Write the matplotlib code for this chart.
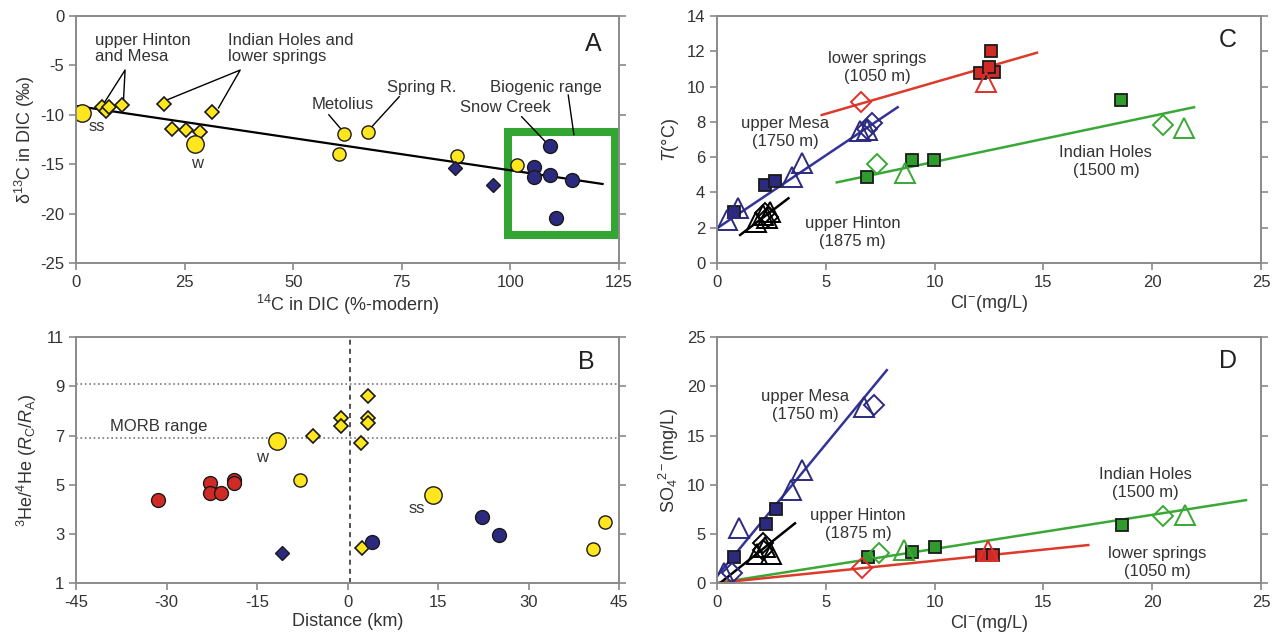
import matplotlib
matplotlib.use("Agg")
import matplotlib.pyplot as plt
from matplotlib.patches import Rectangle

plt.rcParams['font.family'] = ['Liberation Sans', 'DejaVu Sans']
plt.rcParams['mathtext.fontset'] = 'custom'
plt.rcParams['mathtext.rm'] = 'Liberation Sans'
plt.rcParams['mathtext.it'] = 'Liberation Sans:italic'
plt.rcParams['axes.unicode_minus'] = False

YEL = '#ffe61e'
NAVY = '#2b2a7e'
RED = '#d02a26'
GREEN = '#2f9b2c'
GLINE = '#3aa836'
EDGE = '#1a1a1a'
TXT = '#333333'

# ---- panel A: 14C vs d13C ----
a_ycirc_x = [61.8, 60.5, 67.3, 87.6, 101.6]
a_ycirc_y = [-11.9, -14.0, -11.7, -14.2, -15.1]
a_ybig_x = [1.4, 27.3]
a_ybig_y = [-9.85, -13.0]
a_ydiam_x = [6.0, 6.8, 7.6, 10.5, 20.2, 31.4, 22.0, 25.3, 28.6]
a_ydiam_y = [-9.2, -9.6, -9.2, -9.0, -8.9, -9.7, -11.4, -11.5, -11.7]
a_ndiam_x = [87.2, 95.9]
a_ndiam_y = [-15.35, -17.1]
a_ncirc_x = [109.1, 105.5, 105.5, 109.0, 114.1, 110.5]
a_ncirc_y = [-13.2, -15.25, -16.3, -16.1, -16.6, -20.4]
a_fit_x = [0, 121.2]
a_fit_y = [-9.1, -17.0]

# ---- panel B: distance vs 3He/4He ----
b_red_x = [-31.4, -22.8, -22.8, -21.0, -18.8, -18.8]
b_red_y = [4.36, 5.07, 4.66, 4.66, 5.19, 5.05]
b_ybig_x = [-11.7, 14.1]
b_ybig_y = [6.77, 4.58]
b_ycirc_x = [-7.9, 42.6, 40.6]
b_ycirc_y = [5.19, 3.47, 2.37]
b_ydiam_x = [-5.7, -1.1, -1.1, 3.45, 3.45, 3.45, 2.2, 2.35]
b_ydiam_y = [6.98, 7.72, 7.38, 8.6, 7.7, 7.5, 6.68, 2.41]
b_ndiam_x = [-10.9]
b_ndiam_y = [2.21]
b_ncirc_x = [4.0, 22.35, 25.1]
b_ncirc_y = [2.68, 3.67, 2.95]
morb = [6.9, 9.1]

# ---- panel C: Cl vs T ----
c_mesa_sq = ([0.78, 2.22, 2.67], [2.87, 4.42, 4.65])
c_mesa_tri = ([0.47, 0.95, 3.43, 3.92, 6.57, 6.9], [2.44, 3.1, 4.9, 5.65, 7.48, 7.54])
c_mesa_dia = ([6.9, 7.1], [7.6, 7.95])
c_mesa_fit = ([0, 8.3], [1.97, 8.83])
c_hin_tri = ([1.78, 2.1, 2.28, 2.45], [2.34, 2.72, 2.53, 2.9])
c_hin_dia = ([2.2, 2.35], [2.81, 2.6])
c_hin_fit = ([1.06, 3.28], [1.59, 3.67])
c_low_sq = ([12.6, 12.1, 12.75, 12.5], [12.03, 10.75, 10.8, 11.1])
c_low_tri = ([12.36], [10.28])
c_low_dia = ([6.6], [9.14])
c_low_fit = ([4.81, 14.7], [8.39, 11.92])
c_ind_sq = ([6.9, 8.95, 9.97, 18.57], [4.86, 5.84, 5.84, 9.24])
c_ind_tri = ([8.64, 21.46], [5.08, 7.63])
c_ind_dia = ([7.37, 20.48], [5.61, 7.82])
c_ind_fit = ([5.5, 21.92], [4.57, 8.83])

# ---- panel D: Cl vs SO4 ----
d_mesa_sq = ([0.78, 2.25, 2.71], [2.67, 5.96, 7.49])
d_mesa_tri = ([1.03, 3.4, 3.92, 6.73, 0.3], [5.62, 9.45, 11.48, 17.9, 1.0])
d_mesa_dia = ([7.19, 0.67], [18.1, 0.98])
d_mesa_fit = ([0, 7.8], [0.71, 21.65])
d_hin_tri = ([1.85, 2.2, 2.5], [3.0, 3.63, 3.0])
d_hin_dia = ([2.13, 2.13], [4.03, 3.35])
d_hin_fit = ([0.14, 3.58], [0, 6.07])
d_low_sq = ([12.16, 12.7], [2.85, 2.85])
d_low_tri = ([12.47], [3.28])
d_low_dia = ([6.68], [1.49])
d_low_fit = ([0, 17.06], [0, 3.86])
d_ind_sq = ([6.92, 8.95, 10.02, 18.63], [2.67, 3.18, 3.63, 5.9])
d_ind_tri = ([8.6, 21.5], [3.35, 6.91])
d_ind_dia = ([7.44, 20.48], [3.02, 6.81])
d_ind_fit = ([0, 24.31], [0, 8.43])


def style(ax, xlim, ylim, xticks, yticks):
    ax.set_xlim(*xlim)
    ax.set_ylim(*ylim)
    ax.set_xticks(xticks)
    ax.set_yticks(yticks)
    for s in ax.spines.values():
        s.set_color('#8a8a8a')
        s.set_linewidth(1.4)
    ax.tick_params(direction='out', length=5, width=1.2, color='#8a8a8a',
                   labelsize=12, labelcolor=TXT, right=True, top=False)


def pts(ax, xy, marker, ms, fc, ec, mew=1.0):
    ax.plot(xy[0], xy[1], ls='none', marker=marker, ms=ms, mfc=fc, mec=ec, mew=mew)


fig = plt.figure(figsize=(12.73, 6.35), dpi=100)
axA = fig.add_axes([0.0597, 0.5858, 0.4266, 0.389])
axB = fig.add_axes([0.0597, 0.0819, 0.4266, 0.387])
axC = fig.add_axes([0.5633, 0.5858, 0.4273, 0.389])
axD = fig.add_axes([0.5633, 0.0819, 0.4273, 0.387])

# A
style(axA, (0, 125), (-25, 0), range(0, 126, 25), range(-25, 1, 5))
axA.plot(a_fit_x, a_fit_y, color='k', lw=1.6, zorder=2)
axA.add_patch(Rectangle((99.4, -22.2), 24.6, 10.46, fill=False, ec='#33a532', lw=5.8, zorder=1))
pts(axA, (a_ydiam_x, a_ydiam_y), 'D', 7.5, YEL, EDGE, 1.2)
pts(axA, (a_ycirc_x, a_ycirc_y), 'o', 9.5, YEL, EDGE)
pts(axA, (a_ybig_x, a_ybig_y), 'o', 12.5, YEL, EDGE)
pts(axA, (a_ndiam_x, a_ndiam_y), 'D', 7.5, NAVY, EDGE)
pts(axA, (a_ncirc_x, a_ncirc_y), 'o', 10, NAVY, EDGE)
lk = dict(color='k', lw=1.0, zorder=1)
axA.plot([5.9, 11.3, 10.9], [-9.2, -5.47, -8.8], **lk)
axA.plot([20.9, 37.8, 32.8], [-8.5, -5.47, -9.3], **lk)
axA.plot([58.2, 61.2], [-10.0, -11.55], **lk)
axA.plot([74.4, 67.9], [-8.17, -11.3], **lk)
axA.plot([113.3, 114.6], [-8.0, -12.0], **lk)
axA.plot([102.6, 108.0], [-10.2, -12.7], **lk)
tk = dict(fontsize=12, color=TXT)
axA.text(4.3, -1.7, 'upper Hinton\nand Mesa', va='top', ha='left', linespacing=1.1, **tk)
axA.text(34.9, -1.7, 'Indian Holes and\nlower springs', va='top', ha='left', linespacing=1.1, **tk)
axA.text(61.5, -9.0, 'Metolius', ha='center', va='center', **tk)
axA.text(71.5, -7.2, 'Spring R.', ha='left', va='center', **tk)
axA.text(95.3, -7.2, 'Biogenic range', ha='left', va='center', **tk)
axA.text(88.4, -9.3, 'Snow Creek', ha='left', va='center', **tk)
axA.text(4.8, -11.2, 'ss', ha='center', va='center', **tk)
axA.text(27.8, -14.9, 'w', ha='center', va='center', **tk)
axA.text(121, -2.8, 'A', fontsize=18, ha='right', va='center', color='#222222')
axA.set_xlabel('$^{14}$C in DIC (%-modern)', fontsize=13, color=TXT, labelpad=2)
axA.set_ylabel('δ$^{13}$C in DIC (‰)', fontsize=13, color=TXT, labelpad=2)

# B
style(axB, (-45, 45), (1, 11), range(-45, 46, 15), range(1, 12, 2))
for m in morb:
    axB.axhline(m, color='#777777', ls=':', lw=1.2, zorder=1)
axB.axvline(0.4, color='#333333', ls='--', lw=1.2, dashes=(3, 2.5), zorder=1)
pts(axB, (b_red_x, b_red_y), 'o', 10, RED, EDGE)
pts(axB, (b_ydiam_x, b_ydiam_y), 'D', 7.5, YEL, EDGE, 1.2)
pts(axB, (b_ycirc_x, b_ycirc_y), 'o', 9.5, YEL, EDGE)
pts(axB, (b_ybig_x, b_ybig_y), 'o', 12.5, YEL, EDGE)
pts(axB, (b_ndiam_x, b_ndiam_y), 'D', 7.5, NAVY, EDGE)
pts(axB, (b_ncirc_x, b_ncirc_y), 'o', 10, NAVY, EDGE)
axB.text(-39.4, 7.35, 'MORB range', ha='left', va='center', **tk)
axB.text(-14.2, 6.1, 'w', ha='center', va='center', **tk)
axB.text(11.5, 4.02, 'ss', ha='center', va='center', **tk)
axB.text(41, 10.0, 'B', fontsize=18, ha='right', va='center', color='#222222')
axB.set_xlabel('Distance (km)', fontsize=13, color=TXT, labelpad=2)
axB.set_ylabel('$^{3}$He/$^{4}$He ($R_{\\rm C}$/$R_{\\rm A}$)', fontsize=13, color=TXT, labelpad=6)


def group(ax, sq, tri, dia, fit, col, sqfc, lcol):
    ax.plot(fit[0], fit[1], color=lcol, lw=1.8, zorder=2)
    if sq is not None:
        pts(ax, sq, 's', 9, sqfc, EDGE, 1.3)
    pts(ax, tri, '^', 15, 'none', col, 1.4)
    pts(ax, dia, 'D', 10, 'none', col, 1.4)


ml = dict(ha='center', va='center', linespacing=1.25, **tk)

# C
style(axC, (0, 25), (0, 14), range(0, 26, 5), range(0, 15, 2))
group(axC, c_ind_sq, c_ind_tri, c_ind_dia, c_ind_fit, GLINE, GREEN, GLINE)
group(axC, c_low_sq, c_low_tri, c_low_dia, c_low_fit, '#e0302a', RED, '#dd3a2a')
group(axC, None, c_hin_tri, c_hin_dia, c_hin_fit, 'k', 'k', 'k')
group(axC, c_mesa_sq, c_mesa_tri, c_mesa_dia, c_mesa_fit, NAVY, NAVY, '#333399')
axC.text(7.38, 11.1, 'lower springs\n(1050 m)', **ml)
axC.text(3.14, 7.37, 'upper Mesa\n(1750 m)', **ml)
axC.text(6.23, 1.73, 'upper Hinton\n(1875 m)', **ml)
axC.text(17.87, 5.78, 'Indian Holes\n(1500 m)', **ml)
axC.text(23.9, 12.65, 'C', fontsize=18, ha='right', va='center', color='#222222')
axC.set_xlabel('Cl$^{-}$(mg/L)', fontsize=13, color=TXT, labelpad=2)
axC.set_ylabel('$T$(°C)', fontsize=13, color=TXT, labelpad=4)

# D
style(axD, (0, 25), (0, 25), range(0, 26, 5), range(0, 26, 5))
group(axD, d_ind_sq, d_ind_tri, d_ind_dia, d_ind_fit, GLINE, GREEN, GLINE)
group(axD, d_low_sq, d_low_tri, d_low_dia, d_low_fit, '#e0302a', RED, '#dd3a2a')
group(axD, None, d_hin_tri, d_hin_dia, d_hin_fit, 'k', 'k', 'k')
group(axD, d_mesa_sq, d_mesa_tri, d_mesa_dia, d_mesa_fit, NAVY, NAVY, '#333399')
axD.text(4.06, 18.06, 'upper Mesa\n(1750 m)', **ml)
axD.text(6.49, 6.0, 'upper Hinton\n(1875 m)', **ml)
axD.text(19.67, 10.08, 'Indian Holes\n(1500 m)', **ml)
axD.text(20.24, 2.05, 'lower springs\n(1050 m)', **ml)
axD.text(23.9, 22.6, 'D', fontsize=18, ha='right', va='center', color='#222222')
axD.set_xlabel('Cl$^{-}$(mg/L)', fontsize=13, color=TXT, labelpad=2)
axD.set_ylabel('SO$_4$$^{2-}$(mg/L)', fontsize=13, color=TXT, labelpad=4)

fig.savefig('out.png', dpi=100)
